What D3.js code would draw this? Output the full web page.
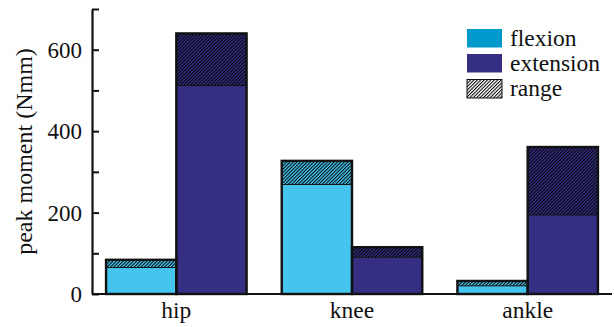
<!DOCTYPE html>
<html>
<head>
<meta charset="utf-8">
<script src="https://cdn.jsdelivr.net/npm/d3@7"></script>
<style>
  html, body { margin: 0; padding: 0; background: #fff; }
  svg { display: block; }
  text { font-family: "Liberation Serif", "Times New Roman", serif; fill: #111; }
</style>
</head>
<body>
<svg id="chart" width="614" height="327"></svg>
<script>
// Joints along the x axis
const joints = ["hip", "knee", "ankle"];
// Peak moment (Nmm): mean value (solid part) and upper end of range (hatched part)
const flexionMean = [65, 269, 20];
const flexionMax = [84, 327, 32];
const extensionMean = [512, 90, 194];
const extensionMax = [640, 115, 361];
// Legend entries
const legendLabels = ["flexion", "extension", "range"];
// Y axis ticks
const yTicks = [0, 100, 200, 300, 400, 500, 600, 700];
const yLabelTicks = [0, 200, 400, 600];

const colFlex = "#45c4ee";
const colExt = "#352f84";
const colFlexKey = "#0099cc";

const svg = d3.select("#chart");
const plotLeft = 92, plotRight = 612, plotBottom = 294, plotTop = 9;

const x0 = d3.scaleBand().domain(joints).range([plotLeft, plotRight])
  .paddingInner(0.2).paddingOuter(0.08);
const x1 = d3.scaleBand().domain(["flexion", "extension"]).range([0, x0.bandwidth()]);
const y = d3.scaleLinear().domain([0, 700]).range([plotBottom, plotTop]);

// hatch patterns
const defs = svg.append("defs");
function hatch(id, bg) {
  const p = defs.append("pattern").attr("id", id)
    .attr("patternUnits", "userSpaceOnUse")
    .attr("width", 2.4).attr("height", 8)
    .attr("patternTransform", "rotate(45)");
  p.append("rect").attr("width", 2.4).attr("height", 8).attr("fill", bg);
  p.append("line").attr("x1", 0.5).attr("x2", 0.5).attr("y1", 0).attr("y2", 8)
    .attr("stroke", "#000").attr("stroke-width", 1);
}
hatch("hatch-flex", colFlex);
hatch("hatch-ext", colExt);
hatch("hatch-key", "#fff");

const series = [
  { key: "flexion", mean: flexionMean, max: flexionMax, fill: colFlex, pat: "url(#hatch-flex)" },
  { key: "extension", mean: extensionMean, max: extensionMax, fill: colExt, pat: "url(#hatch-ext)" }
];

const bars = [];
joints.forEach((j, i) => {
  series.forEach(s => {
    bars.push({ joint: j, key: s.key, mean: s.mean[i], max: s.max[i], fill: s.fill, pat: s.pat });
  });
});

const g = svg.append("g");
const bx = d => x0(d.joint) + x1(d.key);
const bw = x1.bandwidth();

// solid part (mean)
g.selectAll("rect.mean").data(bars).join("rect").attr("class", "mean")
  .attr("x", bx).attr("width", bw)
  .attr("y", d => y(d.mean)).attr("height", d => y(0) - y(d.mean))
  .attr("fill", d => d.fill);
// hatched part (range)
g.selectAll("rect.range").data(bars).join("rect").attr("class", "range")
  .attr("x", bx).attr("width", bw)
  .attr("y", d => y(d.max)).attr("height", d => y(d.mean) - y(d.max))
  .attr("fill", d => d.pat);
// divider between mean and range
g.selectAll("line.div").data(bars).join("line").attr("class", "div")
  .attr("x1", bx).attr("x2", d => bx(d) + bw)
  .attr("y1", d => y(d.mean)).attr("y2", d => y(d.mean))
  .attr("stroke", "#111").attr("stroke-width", 1);
// outline
g.selectAll("rect.outline").data(bars).join("rect").attr("class", "outline")
  .attr("x", bx).attr("width", bw)
  .attr("y", d => y(d.max)).attr("height", d => y(0) - y(d.max))
  .attr("fill", "none").attr("stroke", "#111").attr("stroke-width", 2.4);

// x axis baseline
svg.append("line").attr("x1", plotLeft).attr("x2", plotRight).attr("y1", y(0)).attr("y2", y(0))
  .attr("stroke", "#111").attr("stroke-width", 2.2);

// x labels
svg.selectAll("text.xl").data(joints).join("text").attr("class", "xl")
  .attr("x", d => x0(d) + x0.bandwidth() / 2).attr("y", 318)
  .attr("text-anchor", "middle").attr("font-size", 23.5).text(d => d);

// y axis
const yAxis = d3.axisLeft(y).tickValues(yTicks)
  .tickSizeInner(-7).tickSizeOuter(0).tickPadding(10)
  .tickFormat(d => yLabelTicks.includes(d) ? d : "");
const ya = svg.append("g").attr("transform", `translate(${plotLeft},0)`).call(yAxis);
ya.select(".domain").attr("stroke", "#111").attr("stroke-width", 2.2);
ya.selectAll(".tick line").attr("stroke", "#111").attr("stroke-width", 2);
ya.selectAll(".tick text").attr("font-family", "Liberation Serif, serif")
  .attr("font-size", 23).attr("fill", "#111").attr("dy", "0.34em");

// y title
svg.append("text").attr("transform", "translate(32,151.5) rotate(-90)")
  .attr("text-anchor", "middle").attr("font-size", 24).text("peak moment (Nmm)");

// legend
const keyFills = [colFlexKey, colExt, "url(#hatch-key)"];
const lg = svg.append("g");
const ky = [29, 54, 79.5];
legendLabels.forEach((lab, i) => {
  lg.append("rect").attr("x", 467).attr("y", ky[i]).attr("width", 35).attr("height", 18.5)
    .attr("fill", keyFills[i])
    .attr("stroke", i === 2 ? "#111" : "none").attr("stroke-width", 1);
  lg.append("text").attr("x", 510).attr("y", ky[i] + 16.8)
    .attr("font-size", 23.5).text(lab);
});
</script>
</body>
</html>
